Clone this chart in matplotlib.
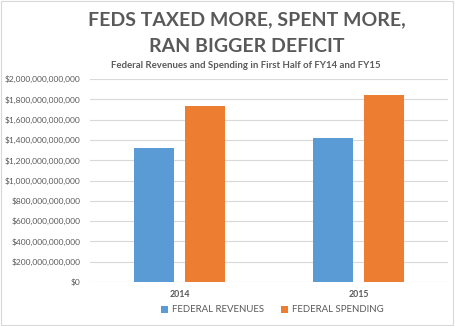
import matplotlib.pyplot as plt
import numpy as np
from matplotlib.ticker import FuncFormatter

years = ["2014", "2015"]
revenues = [1.317e12, 1.418e12]
spending = [1.734e12, 1.847e12]
series_names = ["FEDERAL REVENUES", "FEDERAL SPENDING"]

plt.rcParams['font.family'] = ['Lato', 'DejaVu Sans']
txt = '#595959'

fig = plt.figure(figsize=(4.55, 3.26), dpi=100)
ax = fig.add_axes([90 / 455, 1 - 282 / 326, 358 / 455, 203 / 326])

x = np.arange(len(years))
w = 0.223
off = 0.142
b1 = ax.bar(x - off, revenues, w, color='#5B9BD5', label=series_names[0])
b2 = ax.bar(x + off, spending, w, color='#ED7D31', label=series_names[1])

ax.set_xlim(-0.5, 1.5)
ax.set_ylim(0, 2e12)
ax.set_yticks(np.arange(0, 2.01e12, 2e11))
ax.yaxis.set_major_formatter(FuncFormatter(lambda v, p: f"${v:,.0f}"))
ax.set_xticks(x)
ax.set_xticklabels(years, fontweight='bold')
ax.tick_params(axis='x', length=0, labelsize=6.3, colors=txt, pad=6)
ax.tick_params(axis='y', length=0, labelsize=6.0, colors=txt, pad=7)
ax.grid(axis='y', color='#d9d9d9', linewidth=0.8)
ax.set_axisbelow(True)
for s in ax.spines.values():
    s.set_visible(False)

fig.text(0.543, 1 - 20 / 326, "FEDS TAXED MORE, SPENT MORE,", ha='center', va='center',
         fontsize=14, fontweight='bold', color=txt)
fig.text(0.543, 1 - 47 / 326, "RAN BIGGER DEFICIT", ha='center', va='center',
         fontsize=14, fontweight='bold', color=txt)
fig.text(0.541, 1 - 65 / 326, "Federal Revenues and Spending in First Half of FY14 and FY15",
         ha='center', va='center', fontsize=6.9, fontweight='bold', color=txt)

fig.legend(handles=[b1, b2], loc='center', bbox_to_anchor=(0.598, 1 - 310 / 326), ncol=2,
           frameon=False, fontsize=6.9, labelcolor=txt, handlelength=0.7, handleheight=0.7,
           columnspacing=1.8, handletextpad=0.4)

border = plt.Rectangle((0.003, 0.004), 0.992, 0.992, transform=fig.transFigure,
                       fill=False, edgecolor='#d9d9d9', linewidth=0.8)
fig.patches.append(border)

fig.savefig("out.png", dpi=100)
